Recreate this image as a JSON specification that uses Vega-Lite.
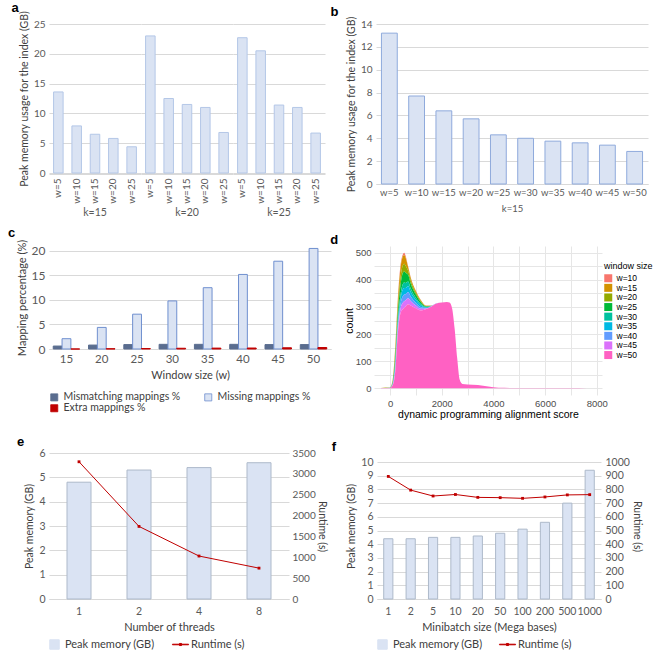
{
  "$schema": "https://vega.github.io/schema/vega-lite/v6.json",
  "background": "white",
  "padding": {"left": 8, "top": 2, "right": 0, "bottom": 0},
  "spacing": 16,
  "resolve": {"scale": {"color": "independent", "fill": "independent", "stroke": "independent"}, "legend": {"color": "independent", "fill": "independent", "stroke": "independent"}},
  "config": {
    "font": "Lato",
    "view": {"stroke": null},
    "axis": {"labelColor": "#595959", "titleColor": "#404040", "labelFontSize": 10, "titleFontSize": 10.5, "titleFontWeight": "normal", "gridColor": "#d9d9d9", "domainColor": "#d9d9d9", "tickColor": "#d9d9d9", "ticks": false, "labelPadding": 4},
    "axisY": {"domain": false},
    "title": {"font": "Liberation Sans", "fontSize": 13, "fontWeight": "bold", "anchor": "start", "frame": "bounds", "dx": -8, "offset": -6},
    "legend": {"labelFont": "Lato", "labelColor": "#404040", "labelFontSize": 11}
  },
  "vconcat": [
    {
      "spacing": 8,
      "resolve": {"scale": {"color": "independent", "fill": "independent", "stroke": "independent"}, "legend": {"color": "independent", "fill": "independent", "stroke": "independent"}},
      "vconcat": [
        {
          "spacing": 5,
          "resolve": {"scale": {"color": "independent", "fill": "independent", "stroke": "independent"}, "legend": {"color": "independent", "fill": "independent", "stroke": "independent"}},
          "hconcat": [
            {
              "title": {"text": "a"},
              "data": {"values": [
                {"k": "k=15", "w": "w=5", "m": 13.6}, {"k": "k=15", "w": "w=10", "m": 7.9}, {"k": "k=15", "w": "w=15", "m": 6.5}, {"k": "k=15", "w": "w=20", "m": 5.8}, {"k": "k=15", "w": "w=25", "m": 4.4},
                {"k": "k=20", "w": "w=5", "m": 23.0}, {"k": "k=20", "w": "w=10", "m": 12.5}, {"k": "k=20", "w": "w=15", "m": 11.5}, {"k": "k=20", "w": "w=20", "m": 11.0}, {"k": "k=20", "w": "w=25", "m": 6.8},
                {"k": "k=25", "w": "w=5", "m": 22.7}, {"k": "k=25", "w": "w=10", "m": 20.5}, {"k": "k=25", "w": "w=15", "m": 11.4}, {"k": "k=25", "w": "w=20", "m": 11.0}, {"k": "k=25", "w": "w=25", "m": 6.7}
              ]},
              "facet": {"column": {"field": "k", "type": "nominal", "header": {"labelOrient": "bottom", "title": null, "labelFont": "Lato", "labelFontSize": 10.5, "labelColor": "#595959", "labelPadding": 5}}},
              "spacing": 0,
              "spec": {
                "width": 92, "height": 149,
                "mark": {"type": "bar", "fill": "#dae3f3", "stroke": "#b4c7e7", "strokeWidth": 1},
                "encoding": {
                  "x": {"field": "w", "type": "ordinal", "sort": null, "scale": {"paddingInner": 0.48, "paddingOuter": 0.25}, "axis": {"labelAngle": -90, "title": null, "labelFontSize": 10, "labelPadding": 4}},
                  "y": {"field": "m", "type": "quantitative", "scale": {"domain": [0, 25], "nice": false}, "axis": {"values": [0, 5, 10, 15, 20, 25], "title": "Peak memory usage for the index  (GB)"}}
                }
              }
            },
            {
              "title": {"text": "b", "dx": -16},
              "width": 272, "height": 160,
              "data": {"values": [
                {"w": "w=5", "m": 13.2}, {"w": "w=10", "m": 7.7}, {"w": "w=15", "m": 6.4}, {"w": "w=20", "m": 5.7}, {"w": "w=25", "m": 4.3},
                {"w": "w=30", "m": 4.0}, {"w": "w=35", "m": 3.75}, {"w": "w=40", "m": 3.6}, {"w": "w=45", "m": 3.4}, {"w": "w=50", "m": 2.85}
              ]},
              "mark": {"type": "bar", "fill": "#dae3f3", "stroke": "#8faadc", "strokeWidth": 1},
              "encoding": {
                "x": {"field": "w", "type": "ordinal", "sort": null, "scale": {"paddingInner": 0.42, "paddingOuter": 0.2}, "axis": {"labelAngle": 0, "title": "k=15", "titleColor": "#595959", "titleFontSize": 9.5, "titlePadding": 7, "labelFontSize": 9.5, "labelPadding": 3}},
                "y": {"field": "m", "type": "quantitative", "scale": {"domain": [0, 14], "nice": false}, "axis": {"values": [0, 2, 4, 6, 8, 10, 12, 14], "title": "Peak memory  usage for the index  (GB)"}}
              }
            }
          ]
        },
        {
          "spacing": -1,
          "resolve": {"scale": {"color": "independent", "fill": "independent", "stroke": "independent"}, "legend": {"color": "independent", "fill": "independent", "stroke": "independent"}},
          "hconcat": [
            {
              "title": {"text": "c", "offset": -1},
              "width": 282, "height": 103,
              "data": {"values": [
                {"w": 15, "s": "Mismatching mappings %", "v": 0.6}, {"w": 15, "s": "Missing mappings %", "v": 2.1}, {"w": 15, "s": "Extra mappings %", "v": 0.0},
                {"w": 20, "s": "Mismatching mappings %", "v": 0.8}, {"w": 20, "s": "Missing mappings %", "v": 4.4}, {"w": 20, "s": "Extra mappings %", "v": 0.05},
                {"w": 25, "s": "Mismatching mappings %", "v": 0.9}, {"w": 25, "s": "Missing mappings %", "v": 7.1}, {"w": 25, "s": "Extra mappings %", "v": 0.1},
                {"w": 30, "s": "Mismatching mappings %", "v": 0.95}, {"w": 30, "s": "Missing mappings %", "v": 9.8}, {"w": 30, "s": "Extra mappings %", "v": 0.15},
                {"w": 35, "s": "Mismatching mappings %", "v": 0.95}, {"w": 35, "s": "Missing mappings %", "v": 12.5}, {"w": 35, "s": "Extra mappings %", "v": 0.18},
                {"w": 40, "s": "Mismatching mappings %", "v": 0.95}, {"w": 40, "s": "Missing mappings %", "v": 15.2}, {"w": 40, "s": "Extra mappings %", "v": 0.2},
                {"w": 45, "s": "Mismatching mappings %", "v": 0.9}, {"w": 45, "s": "Missing mappings %", "v": 17.9}, {"w": 45, "s": "Extra mappings %", "v": 0.25},
                {"w": 50, "s": "Mismatching mappings %", "v": 0.9}, {"w": 50, "s": "Missing mappings %", "v": 20.5}, {"w": 50, "s": "Extra mappings %", "v": 0.3}
              ]},
              "mark": {"type": "bar", "strokeWidth": 1},
              "encoding": {
                "x": {"field": "w", "type": "ordinal", "scale": {"paddingInner": 0.25, "paddingOuter": 0.12}, "axis": {"labelAngle": 0, "title": "Window size (w)", "labelFontSize": 11.5, "titleFontSize": 11, "titlePadding": 5}},
                "xOffset": {"field": "s", "type": "nominal", "sort": ["Mismatching mappings %", "Missing mappings %", "Extra mappings %"]},
                "y": {"field": "v", "type": "quantitative", "scale": {"domain": [0, 21], "nice": false}, "axis": {"values": [0, 5, 10, 15, 20], "title": "Mapping percentage (%)", "labelFontSize": 12, "titleFontSize": 11}},
                "fill": {"field": "s", "type": "nominal", "sort": ["Mismatching mappings %", "Missing mappings %", "Extra mappings %"], "scale": {"domain": ["Mismatching mappings %", "Missing mappings %", "Extra mappings %"], "range": ["#5a6d8f", "#dae3f3", "#c00000"]}, "legend": {"orient": "bottom", "columns": 2, "title": null, "symbolType": "square", "symbolSize": 50, "symbolStrokeColor": "#6f8fcf", "symbolStrokeWidth": 0.8, "columnPadding": 22, "rowPadding": 0, "labelFontSize": 10.5, "labelOffset": 4, "offset": 11}},
                "stroke": {"field": "s", "type": "nominal", "scale": {"domain": ["Mismatching mappings %", "Missing mappings %", "Extra mappings %"], "range": ["#5a6d8f", "#6f8fcf", "#c00000"]}, "legend": null}
              }
            },
            {
              "title": {"text": "d", "dx": -14, "offset": -1},
              "width": 228, "height": 149,
              "data": {"values": [
                {"x": -350, "w=10": 0, "w=15": 0, "w=20": 0, "w=25": 0, "w=30": 0, "w=35": 0, "w=40": 0, "w=45": 0, "w=50": 0.5},
                {"x": 0, "w=10": 0.1, "w=15": 0.4, "w=20": 0.3, "w=25": 0.4, "w=30": 0.2, "w=35": 0.2, "w=40": 0.2, "w=45": 0.2, "w=50": 1},
                {"x": 100, "w=10": 1.2, "w=15": 4, "w=20": 3.2, "w=25": 4, "w=30": 1.8, "w=35": 2, "w=40": 2, "w=45": 1.8, "w=50": 10},
                {"x": 200, "w=10": 5.4, "w=15": 18, "w=20": 14.4, "w=25": 18, "w=30": 8.1, "w=35": 9, "w=40": 9, "w=45": 8.1, "w=50": 60},
                {"x": 300, "w=10": 7.8, "w=15": 26, "w=20": 20.8, "w=25": 26, "w=30": 11.7, "w=35": 13, "w=40": 13, "w=45": 11.7, "w=50": 200},
                {"x": 400, "w=10": 10.5, "w=15": 35, "w=20": 28, "w=25": 35, "w=30": 15.8, "w=35": 17.5, "w=40": 17.5, "w=45": 15.7, "w=50": 275},
                {"x": 500, "w=10": 8.1, "w=15": 32.5, "w=20": 28.4, "w=25": 40.6, "w=30": 20.3, "w=35": 24.4, "w=40": 24.4, "w=45": 24.3, "w=50": 292},
                {"x": 550, "w=10": 8.1, "w=15": 32.5, "w=20": 28.4, "w=25": 40.6, "w=30": 20.3, "w=35": 24.4, "w=40": 24.4, "w=45": 24.3, "w=50": 297},
                {"x": 600, "w=10": 7.5, "w=15": 30.1, "w=20": 26.3, "w=25": 37.6, "w=30": 18.8, "w=35": 22.6, "w=40": 22.6, "w=45": 22.5, "w=50": 302},
                {"x": 700, "w=10": 2.8, "w=15": 14, "w=20": 14, "w=25": 25.2, "w=30": 16.8, "w=35": 22.4, "w=40": 22.4, "w=45": 22.4, "w=50": 310},
                {"x": 800, "w=10": 2.1, "w=15": 10.5, "w=20": 10.5, "w=25": 18.9, "w=30": 12.6, "w=35": 16.8, "w=40": 16.8, "w=45": 16.8, "w=50": 305},
                {"x": 1000, "w=10": 1.3, "w=15": 6.5, "w=20": 6.5, "w=25": 11.7, "w=30": 7.8, "w=35": 10.4, "w=40": 10.4, "w=45": 10.4, "w=50": 295},
                {"x": 1200, "w=10": 0.8, "w=15": 3.8, "w=20": 3.8, "w=25": 6.8, "w=30": 4.6, "w=35": 6.1, "w=40": 6.1, "w=45": 6.0, "w=50": 287},
                {"x": 1400, "w=10": 0.3, "w=15": 1.3, "w=20": 1.3, "w=25": 2.3, "w=30": 1.6, "w=35": 2.1, "w=40": 2.1, "w=45": 2.0, "w=50": 292},
                {"x": 1600, "w=10": 0.1, "w=15": 0.3, "w=20": 0.3, "w=25": 0.5, "w=30": 0.4, "w=35": 0.5, "w=40": 0.5, "w=45": 0.4, "w=50": 302},
                {"x": 1800, "w=10": 0.1, "w=15": 0.1, "w=20": 0.1, "w=25": 0.2, "w=30": 0.1, "w=35": 0.1, "w=40": 0.2, "w=45": 0.1, "w=50": 313},
                {"x": 2000, "w=10": 0, "w=15": 0, "w=20": 0, "w=25": 0, "w=30": 0, "w=35": 0, "w=40": 0, "w=45": 0, "w=50": 316},
                {"x": 2200, "w=10": 0, "w=15": 0, "w=20": 0, "w=25": 0, "w=30": 0, "w=35": 0, "w=40": 0, "w=45": 0, "w=50": 318},
                {"x": 2300, "w=10": 0, "w=15": 0, "w=20": 0, "w=25": 0, "w=30": 0, "w=35": 0, "w=40": 0, "w=45": 0, "w=50": 316},
                {"x": 2400, "w=10": 0, "w=15": 0, "w=20": 0, "w=25": 0, "w=30": 0, "w=35": 0, "w=40": 0, "w=45": 0, "w=50": 295},
                {"x": 2500, "w=10": 0, "w=15": 0, "w=20": 0, "w=25": 0, "w=30": 0, "w=35": 0, "w=40": 0, "w=45": 0, "w=50": 220},
                {"x": 2600, "w=10": 0, "w=15": 0, "w=20": 0, "w=25": 0, "w=30": 0, "w=35": 0, "w=40": 0, "w=45": 0, "w=50": 110},
                {"x": 2700, "w=10": 0, "w=15": 0, "w=20": 0, "w=25": 0, "w=30": 0, "w=35": 0, "w=40": 0, "w=45": 0, "w=50": 30},
                {"x": 2800, "w=10": 0, "w=15": 0, "w=20": 0, "w=25": 0, "w=30": 0, "w=35": 0, "w=40": 0, "w=45": 0, "w=50": 16},
                {"x": 3000, "w=10": 0, "w=15": 0, "w=20": 0, "w=25": 0, "w=30": 0, "w=35": 0, "w=40": 0, "w=45": 0, "w=50": 14},
                {"x": 3400, "w=10": 0, "w=15": 0, "w=20": 0, "w=25": 0, "w=30": 0, "w=35": 0, "w=40": 0, "w=45": 0, "w=50": 12},
                {"x": 3800, "w=10": 0, "w=15": 0, "w=20": 0, "w=25": 0, "w=30": 0, "w=35": 0, "w=40": 0, "w=45": 0, "w=50": 6},
                {"x": 4200, "w=10": 0, "w=15": 0, "w=20": 0, "w=25": 0, "w=30": 0, "w=35": 0, "w=40": 0, "w=45": 0, "w=50": 1.5},
                {"x": 5000, "w=10": 0, "w=15": 0, "w=20": 0, "w=25": 0, "w=30": 0, "w=35": 0, "w=40": 0, "w=45": 0, "w=50": 0.8},
                {"x": 6000, "w=10": 0, "w=15": 0, "w=20": 0, "w=25": 0, "w=30": 0, "w=35": 0, "w=40": 0, "w=45": 0, "w=50": 0.8},
                {"x": 7000, "w=10": 0, "w=15": 0, "w=20": 0, "w=25": 0, "w=30": 0, "w=35": 0, "w=40": 0, "w=45": 0, "w=50": 0.6},
                {"x": 7600, "w=10": 0, "w=15": 0, "w=20": 0, "w=25": 0, "w=30": 0, "w=35": 0, "w=40": 0, "w=45": 0, "w=50": 0}
              ]},
              "transform": [{"fold": ["w=10", "w=15", "w=20", "w=25", "w=30", "w=35", "w=40", "w=45", "w=50"], "as": ["w", "count"]}],
              "mark": {"type": "area", "interpolate": "monotone"},
              "encoding": {
                "x": {"field": "x", "type": "quantitative", "scale": {"domain": [-620, 8200], "nice": false}, "axis": {"values": [0, 1000, 2000, 3000, 4000, 5000, 6000, 7000, 8000], "labelExpr": "datum.value % 2000 == 0 ? format(datum.value, 'd') : ''", "title": "dynamic programming alignment score", "gridColor": "#e6e6e6", "domain": false, "labelFont": "Liberation Sans", "labelColor": "#4d4d4d", "labelFontSize": 9.5, "titleFont": "Liberation Sans", "titleColor": "#000000", "titleFontSize": 10.5, "titlePadding": 2, "labelPadding": 3}},
                "y": {"field": "count", "type": "quantitative", "stack": "zero", "scale": {"domain": [-25, 525], "nice": false, "zero": false}, "axis": {"values": [0, 50, 100, 150, 200, 250, 300, 350, 400, 450, 500], "labelExpr": "datum.value % 100 == 0 ? format(datum.value, 'd') : ''", "title": "count", "gridColor": "#e6e6e6", "labelFont": "Liberation Sans", "labelColor": "#4d4d4d", "labelFontSize": 9.5, "titleFont": "Liberation Sans", "titleColor": "#000000", "titleFontSize": 10.5, "titlePadding": 1, "labelPadding": 3}},
                "color": {"field": "w", "type": "nominal", "scale": {"domain": ["w=10", "w=15", "w=20", "w=25", "w=30", "w=35", "w=40", "w=45", "w=50"], "range": ["#F8766D", "#D39200", "#93AA00", "#00BA38", "#00C19F", "#00B9E3", "#619CFF", "#DB72FB", "#FF61C3"]}, "legend": {"title": ["", "window size"], "titleLineHeight": 16, "titleFont": "Liberation Sans", "titleFontWeight": "normal", "titleFontSize": 9, "titleColor": "#000000", "titlePadding": 3, "labelFont": "Liberation Sans", "labelFontSize": 8.5, "labelColor": "#000000", "labelOffset": 4, "symbolType": "square", "symbolSize": 64, "symbolStrokeWidth": 0, "rowPadding": 0.6, "padding": 0, "offset": 2}},
                "order": {"field": "w", "sort": "descending"}
              }
            }
          ]
        }
      ]
    },
    {
      "spacing": 4,
      "resolve": {"scale": {"color": "independent", "fill": "independent", "stroke": "independent"}, "legend": {"color": "independent", "fill": "independent", "stroke": "independent"}},
      "hconcat": [
        {
          "title": {"text": "e", "offset": -1},
          "width": 240, "height": 146,
          "data": {"values": [
            {"t": "1", "mem": 4.8, "rt": 3290}, {"t": "2", "mem": 5.3, "rt": 1740}, {"t": "4", "mem": 5.4, "rt": 1030}, {"t": "8", "mem": 5.6, "rt": 740}
          ]},
          "encoding": {"x": {"field": "t", "type": "ordinal", "sort": null, "scale": {"paddingInner": 0.6, "paddingOuter": 0.3}, "axis": {"labelAngle": 0, "title": "Number of threads", "titlePadding": 5, "labelPadding": 7, "labelFontSize": 10.5, "titleFontSize": 11}}},
          "layer": [
            {
              "mark": {"type": "bar", "stroke": "#adb9ca", "strokeWidth": 1},
              "encoding": {
                "y": {"field": "mem", "type": "quantitative", "scale": {"domain": [0, 6], "nice": false}, "axis": {"values": [0, 1, 2, 3, 4, 5, 6], "title": "Peak memory (GB)", "labelFontSize": 10.5}},
                "color": {"datum": "Peak  memory (GB)", "type": "nominal"}
              }
            },
            {
              "mark": {"type": "line", "strokeWidth": 1, "point": {"shape": "square", "size": 8, "filled": true}},
              "encoding": {
                "y": {"field": "rt", "type": "quantitative", "scale": {"domain": [0, 3500], "nice": false}, "axis": {"orient": "right", "values": [0, 500, 1000, 1500, 2000, 2500, 3000, 3500], "format": "d", "title": "Runtime (s)", "titlePadding": 1, "labelPadding": 3, "grid": false}},
                "color": {"datum": "Runtime (s)", "type": "nominal", "scale": {"domain": ["Peak  memory (GB)", "Runtime (s)"], "range": ["#dae3f3", "#c00000"]}, "legend": {"orient": "bottom", "title": null, "symbolSize": 90, "offset": 6, "columnPadding": 12, "gridAlign": "none", "labelFontSize": 11, "labelOffset": 5, "encoding": {"symbols": {"shape": {"value": {"expr": "datum.value === 'Runtime (s)' ? 'M-1.7,-0.06L1.7,-0.06L1.7,0.06L-1.7,0.06Z M-0.22,-0.22L0.22,-0.22L0.22,0.22L-0.22,0.22Z' : 'square'"}}, "fill": {"value": {"expr": "datum.value === 'Runtime (s)' ? '#c00000' : '#dae3f3'"}}, "stroke": {"value": {"expr": "datum.value === 'Runtime (s)' ? 'transparent' : '#adb9ca'"}}, "strokeWidth": {"value": 1}}}}}
              }
            }
          ],
          "resolve": {"scale": {"y": "independent"}}
        },
        {
          "title": {"text": "f", "dx": -15, "offset": -1},
          "width": 224, "height": 146,
          "data": {"values": [
            {"b": "1", "mem": 4.4, "rt": 895}, {"b": "2", "mem": 4.4, "rt": 795}, {"b": "5", "mem": 4.5, "rt": 752}, {"b": "10", "mem": 4.5, "rt": 763}, {"b": "20", "mem": 4.6, "rt": 742},
            {"b": "50", "mem": 4.8, "rt": 740}, {"b": "100", "mem": 5.1, "rt": 735}, {"b": "200", "mem": 5.6, "rt": 745}, {"b": "500", "mem": 7.0, "rt": 760}, {"b": "1000", "mem": 9.4, "rt": 762}
          ]},
          "encoding": {"x": {"field": "b", "type": "ordinal", "sort": null, "scale": {"paddingInner": 0.59, "paddingOuter": 0.3}, "axis": {"labelAngle": 0, "title": "Minibatch size (Mega bases)", "titlePadding": 5, "labelPadding": 7, "labelFontSize": 10.5, "titleFontSize": 11}}},
          "layer": [
            {
              "mark": {"type": "bar", "stroke": "#adb9ca", "strokeWidth": 1},
              "encoding": {
                "y": {"field": "mem", "type": "quantitative", "scale": {"domain": [0, 10.66], "nice": false}, "axis": {"values": [0, 1, 2, 3, 4, 5, 6, 7, 8, 9, 10], "title": "Peak memory  (GB)", "labelFontSize": 10.5}},
                "color": {"datum": "Peak memory (GB)", "type": "nominal"}
              }
            },
            {
              "mark": {"type": "line", "strokeWidth": 1, "point": {"shape": "square", "size": 8, "filled": true}},
              "encoding": {
                "y": {"field": "rt", "type": "quantitative", "scale": {"domain": [0, 1066], "nice": false}, "axis": {"orient": "right", "values": [0, 100, 200, 300, 400, 500, 600, 700, 800, 900, 1000], "format": "d", "title": "Runtime (s)", "titlePadding": 2, "grid": false, "labelFontSize": 10.5}},
                "color": {"datum": "Runtime (s)", "type": "nominal", "scale": {"domain": ["Peak memory (GB)", "Runtime (s)"], "range": ["#dae3f3", "#c00000"]}, "legend": {"orient": "bottom", "title": null, "symbolSize": 90, "offset": 6, "columnPadding": 14, "gridAlign": "none", "labelFontSize": 11, "labelOffset": 5, "encoding": {"symbols": {"shape": {"value": {"expr": "datum.value === 'Runtime (s)' ? 'M-1.7,-0.06L1.7,-0.06L1.7,0.06L-1.7,0.06Z M-0.22,-0.22L0.22,-0.22L0.22,0.22L-0.22,0.22Z' : 'square'"}}, "fill": {"value": {"expr": "datum.value === 'Runtime (s)' ? '#c00000' : '#dae3f3'"}}, "stroke": {"value": {"expr": "datum.value === 'Runtime (s)' ? 'transparent' : '#adb9ca'"}}, "strokeWidth": {"value": 1}}}}}
              }
            }
          ],
          "resolve": {"scale": {"y": "independent"}}
        }
      ]
    }
  ]
}
